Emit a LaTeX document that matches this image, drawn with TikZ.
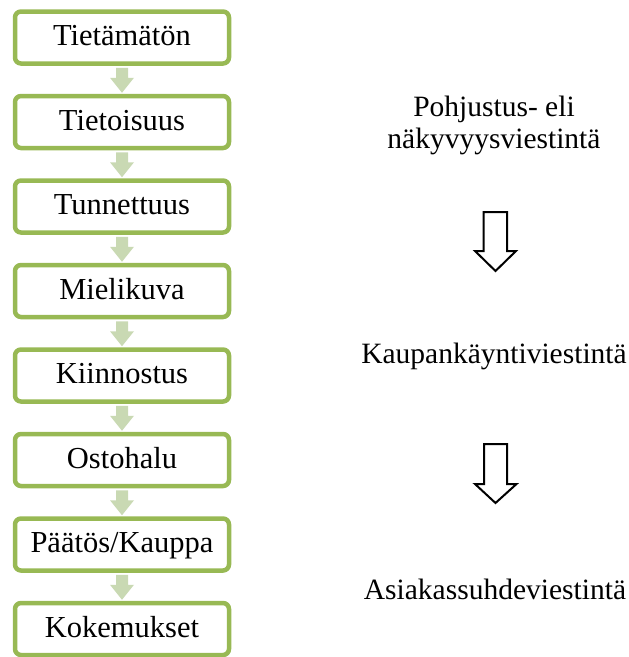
\documentclass[tikz,border=0pt]{standalone}
\usepackage{fontspec}
\setmainfont{Liberation Serif}
\usetikzlibrary{calc}
\definecolor{boxgreen}{RGB}{152,185,84}
\definecolor{arrowgreen}{RGB}{201,217,179}
\tikzset{
  stage/.style={draw=boxgreen, line width=4.5pt, rounded corners=6pt, fill=white,
    minimum width=214pt, minimum height=52pt, inner sep=0pt,
    text height=21pt, text depth=5pt},
  flowarrow/.style={fill=arrowgreen, draw=none},
  hollowarrow/.style={draw=black, line width=2pt, fill=white, line join=miter},
  sidetext/.style={align=center, inner sep=0pt, font=\fontsize{29.5}{31.5}\selectfont}
}
\begin{document}
\begin{tikzpicture}[x=1pt, y=-1pt, font=\fontsize{30.5}{31}\selectfont]
\useasboundingbox (0,0) rectangle (629,657);
\foreach \t [count=\i] in {Tietämätön,Tietoisuus,Tunnettuus,Mielikuva,Kiinnostus,Ostohalu,Päätös/Kauppa,Kokemukset}{
  \node[stage] (b\i) at (122, {37.5+84.5*(\i-1)}) {\t};
}
\foreach \i [evaluate=\i as \j using int(\i+1)] in {1,...,7}{
  \fill[flowarrow] ($(b\i.south)+(-6,2)$) -- ++(12,0) -- ++(0,10) -- ++(6,0)
     -- ($(b\j.north)+(0,-1)$) -- ($(b\i.south)+(-12,12)$) -- ++(6,0) -- cycle;
}
\node[sidetext, anchor=base] (t1) at (494,148) {Pohjustus- eli\\näkyvyysviestintä};
\node[sidetext, anchor=base] (t2) at (494,363) {Kaupankäyntiviestintä};
\node[sidetext, anchor=base] (t3) at (495,599) {Asiakassuhdeviestintä};
\draw[hollowarrow] (483.5,212) -- (507,212) -- (507,251) -- (516,251) -- (495.5,271)
   -- (475,251) -- (483.5,251) -- cycle;
\draw[hollowarrow] (484,444) -- (507,444) -- (507,484) -- (516.5,484) -- (495.5,503)
   -- (475,484) -- (484,484) -- cycle;
\end{tikzpicture}
\end{document}
